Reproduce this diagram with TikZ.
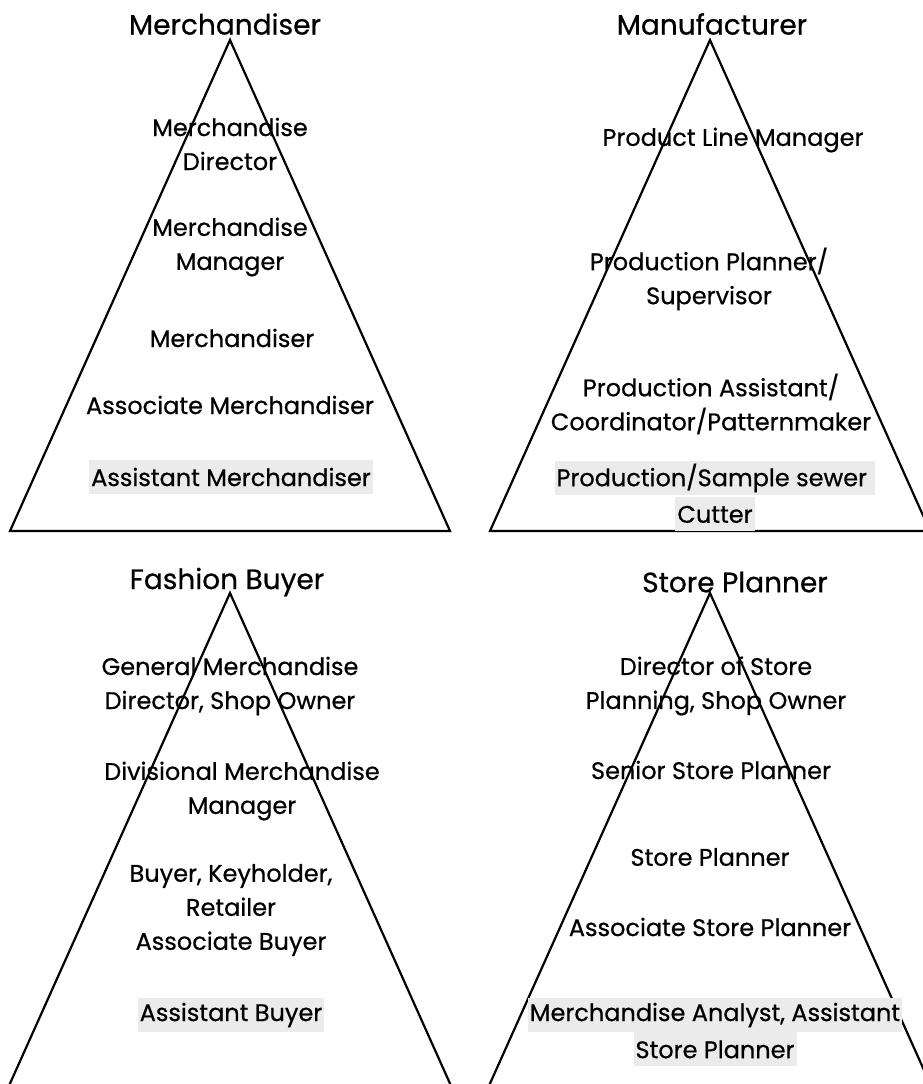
\documentclass[tikz,border=0pt]{standalone}
\usepackage{fontspec}
\setmainfont{Poppins}[FakeBold=0.6, AutoFakeBold=0.6]
\usetikzlibrary{positioning}
\definecolor{hlgray}{HTML}{EBEBEB}

\begin{document}
\begin{tikzpicture}[x=1pt, y=-1pt,
    edge/.style={line width=2.2pt, line join=miter},
    title/.style={font=\fontsize{28}{34}\selectfont\bfseries, inner sep=0pt},
    role/.style={font=\fontsize{24}{34}\selectfont\bfseries, align=center, inner sep=0pt},
    lowest/.style={role, fill=hlgray, inner xsep=2pt, minimum height=34pt}
]
\useasboundingbox (0,0) rectangle (923,1084);
\clip (0,0) rectangle (923,1084);

% Pyramids
\draw[edge] (230,40) -- (10,531) -- (450,531) -- cycle;
\draw[edge] (710,40) -- (490,531) -- (930,531) -- cycle;
\draw[edge] (230,593) -- (8,1088) -- (452,1088) -- cycle;
\draw[edge] (710,593) -- (488,1088) -- (932,1088) -- cycle;

% Merchandiser
\node[title] (merTitle) at (225,24) {Merchandiser};
\node[role] (merDir) at (230,144) {Merchandise\\Director};
\node[role] (merMgr) at (230,247) {Merchandise\\Manager};
\node[role] (merMer) at (232,338) {Merchandiser};
\node[role] (merAsc) at (230,405) {Associate Merchandiser};
\node[lowest] (merAst) at (231,477) {Assistant Merchandiser};

% Manufacturer
\node[title] (manTitle) at (712,24) {Manufacturer};
\node[role] (manPlm) at (733,140) {Product Line Manager};
\node[role] (manPps) at (709,279) {Production Planner/\\Supervisor};
\node[role] (manPac) at (711,404) {Production Assistant/\\Coordinator/Patternmaker};
\node[lowest] (manSew) at (715,478) {Production/Sample sewer\ };
\node[lowest, below=2pt of manSew] (manCut) {Cutter};

% Fashion Buyer
\node[title] (fbTitle) at (227,582) {Fashion Buyer};
\node[role] (fbGmd) at (230,686) {General Merchandise\\Director, Shop Owner};
\node[role] (fbDmm) at (242,791) {Divisional Merchandise\\Manager};
\node[role] (fbBuy) at (231,910) {Buyer, Keyholder,\\Retailer\\Associate Buyer};
\node[lowest] (fbAst) at (231,1015) {Assistant Buyer};

% Store Planner
\node[title] (spTitle) at (735,582) {Store Planner};
\node[role] (spDir) at (716,686) {Director of Store\\Planning, Shop Owner};
\node[role] (spSen) at (711,770) {Senior Store Planner};
\node[role] (spSp) at (710,857) {Store Planner};
\node[role] (spAsc) at (710,927) {Associate Store Planner};
\node[lowest] (spAna) at (715,1015) {Merchandise Analyst, Assistant};
\node[lowest, below=0pt of spAna] (spStp) {Store Planner};

\end{tikzpicture}
\end{document}
